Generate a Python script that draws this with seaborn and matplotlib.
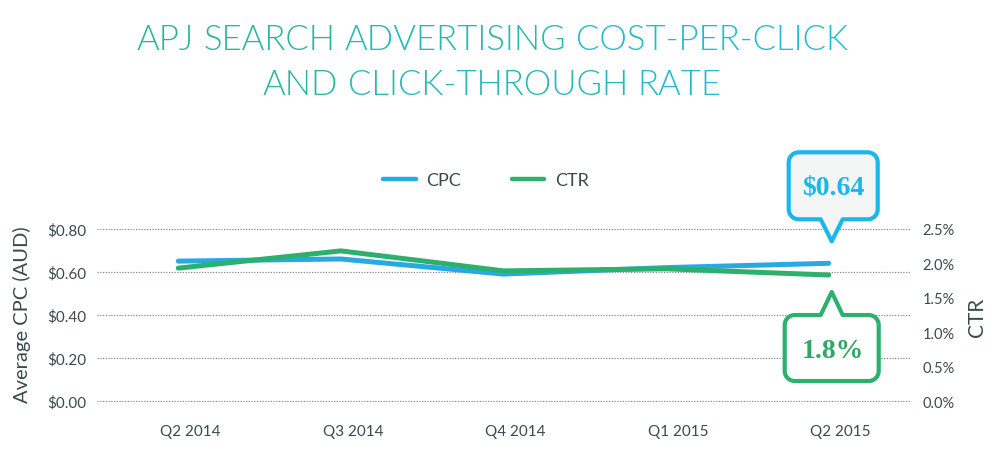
import numpy as np
import pandas as pd
import seaborn as sns
import matplotlib.pyplot as plt
from matplotlib.patches import Polygon
from matplotlib.lines import Line2D
from matplotlib.transforms import Affine2D, ScaledTranslation

quarters = ["Q2 2014", "Q3 2014", "Q4 2014", "Q1 2015", "Q2 2015"]
cpc = [0.65, 0.66, 0.59, 0.62, 0.64]
ctr = [1.93, 2.18, 1.89, 1.92, 1.83]
cpc_ticks = [0.0, 0.2, 0.4, 0.6, 0.8]
ctr_ticks = [0.0, 0.5, 1.0, 1.5, 2.0, 2.5]
cpc_callout = "$0.64"
ctr_callout = "1.8%"
title_lines = ["APJ SEARCH ADVERTISING COST-PER-CLICK", "AND CLICK-THROUGH RATE"]

BLUE = "#29a9e1"
CYAN = "#1ab6ec"
GREEN = "#2db06d"
DARK = "#3b4a4f"

sns.set_theme(style="white")
plt.rcParams["font.family"] = ["Lato", "DejaVu Sans"]

df = pd.DataFrame({"quarter": quarters, "cpc": cpc, "ctr": ctr})

fig = plt.figure(figsize=(10, 4.77), dpi=100)
ax = fig.add_axes([0.097, 0.155, 0.813, 0.365])
ax2 = ax.twinx()

sns.lineplot(data=df, x="quarter", y="cpc", ax=ax, color=BLUE, lw=3.6,
             sort=False, solid_capstyle="round")
sns.lineplot(data=df, x="quarter", y="ctr", ax=ax2, color=GREEN, lw=3.6,
             sort=False, solid_capstyle="round")

ax.set_xlim(-0.5, 4.5)
ax.set_ylim(-0.004, 0.804)
ax2.set_ylim(-0.0125, 2.5125)
ax.set_yticks(cpc_ticks)
ax.set_yticklabels([f"${v:.2f}" for v in cpc_ticks])
ax2.set_yticks(ctr_ticks)
ax2.set_yticklabels([f"{v:.1f}%" for v in ctr_ticks])
ax.set_xlabel("")
ax.set_ylabel("")
ax2.set_ylabel("")

for a in (ax, ax2):
    for s in a.spines.values():
        s.set_visible(False)
    a.tick_params(length=0, colors=DARK, labelsize=11)
ax.tick_params(axis="y", pad=8)
ax2.tick_params(axis="y", pad=9, labelsize=10.5)
ax.tick_params(axis="x", pad=16)
for lab in ax.get_xticklabels():
    lab.set_transform(lab.get_transform() + ScaledTranslation(0.12, 0, fig.dpi_scale_trans))

ax.grid(axis="y", color="#7f8b8f", lw=0.9, ls=(0, (1, 1.2)))
ax.grid(axis="x", visible=False)
ax2.grid(False)

fig.text(0.022, 1 - 315 / 477, "Average CPC (AUD)", rotation=90, ha="center",
         va="center", fontsize=14.5, color=DARK)
fig.text(0.977, 1 - 317 / 477, "CTR", rotation=90, ha="center", va="center",
         fontsize=15, color=DARK)

# legend
handles = [Line2D([], [], color=BLUE, lw=3.2, solid_capstyle="round"),
           Line2D([], [], color=GREEN, lw=3.2, solid_capstyle="round")]
fig.legend(handles, ["CPC", "CTR"], loc="center", ncol=2, frameon=False,
           bbox_to_anchor=(0.486, 1 - 181 / 477), fontsize=13,
           handlelength=1.8, handletextpad=0.6, columnspacing=2.8,
           labelcolor=DARK)


def callout_shape(x0, x1, y0, y1, r, tx, ty, half):
    def arc(cx, cy, a0, a1):
        t = np.radians(np.linspace(a0, a1, 10))
        return list(zip(cx + r * np.cos(t), cy + r * np.sin(t)))
    pts = []
    if ty < y0:
        pts += [(tx - half, y0), (tx, ty), (tx + half, y0)]
    pts += arc(x1 - r, y0 + r, -90, 0)
    pts += arc(x1 - r, y1 - r, 0, 90)
    if ty > y1:
        pts += [(tx + half, y1), (tx, ty), (tx - half, y1)]
    pts += arc(x0 + r, y1 - r, 90, 180)
    pts += arc(x0 + r, y0 + r, 180, 270)
    return pts


def add_callout(axis, x, y, shape, face, edge, text, text_dy, tcolor):
    trans = Affine2D().scale(fig.dpi / 100) + ScaledTranslation(x, y, axis.transData)
    poly = Polygon(shape, closed=True, transform=trans, facecolor=face,
                   edgecolor=edge, lw=3.0, joinstyle="round", clip_on=False, zorder=10)
    ax2.add_artist(poly)
    ax2.annotate(text, xy=(x, y), xycoords=axis.transData, xytext=(4, text_dy),
                 textcoords="offset pixels", ha="center", va="center",
                 fontsize=20, fontweight="bold", color=tcolor,
                 family=["Liberation Serif", "DejaVu Serif"], zorder=11,
                 annotation_clip=False)


add_callout(ax, 4, cpc[-1], callout_shape(-40, 49, 44, 111, 10, 3, 22, 11),
            "#f4f6f6", CYAN, cpc_callout, 76, CYAN)
add_callout(ax2, 4, ctr[-1], callout_shape(-44, 50, -106, -40, 10, 3, -17, 11),
            "white", GREEN, ctr_callout, -75, "#2fa866")

# title with a green-to-cyan sweep, word by word
c0 = np.array([0x2c, 0xb4, 0x8e]) / 255
c1 = np.array([0x1f, 0xbd, 0xe3]) / 255
renderer = fig.canvas.get_renderer()


def text_width(s, **kw):
    t = fig.text(0, 0, s, **kw)
    w = t.get_window_extent(renderer).width
    t.remove()
    return w


tkw = dict(fontsize=25, fontweight=300)
W = fig.bbox.width
for line, base in zip(title_lines, [50, 95]):
    words = line.split(" ")
    total = text_width(line, **tkw)
    left = 492 - total / 2
    for i, w in enumerate(words):
        pre = " ".join(words[:i + 1])
        ww = text_width(w, **tkw)
        start = left + text_width(pre, **tkw) - ww
        frac = np.clip(((start + ww / 2) - 135) / (845 - 135), 0, 1)
        col = c0 + (c1 - c0) * frac
        fig.text(start / W, 1 - base / 477, w, ha="left", va="baseline",
                 color=col, **tkw)

fig.savefig("out.png", dpi=100)
